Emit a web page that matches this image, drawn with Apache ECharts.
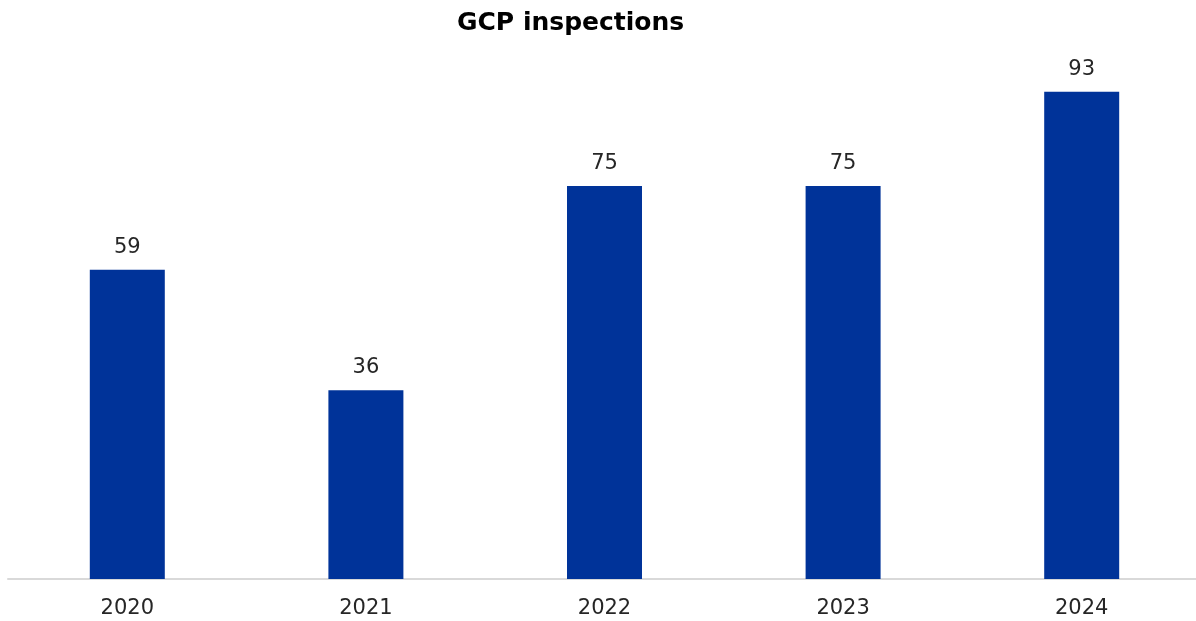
<!DOCTYPE html>
<html>
<head>
<meta charset="utf-8">
<script src="https://cdn.jsdelivr.net/npm/echarts@6/dist/echarts.min.js"></script>
<style>
  html, body { margin: 0; padding: 0; background: #fff; overflow: hidden; }
  #chart { width: 1201px; height: 621px; }
</style>
</head>
<body>
<div id="chart"></div>
<script>
const years = ['2020', '2021', '2022', '2023', '2024']
const inspections = [59, 36, 75, 75, 93]

const chart = echarts.init(document.getElementById('chart'))
chart.setOption({
  animation: false,
  title: {
    text: 'GCP inspections',
    left: 452,
    top: 6,
    textStyle: { fontFamily: 'DejaVu Sans', fontWeight: 'bold', fontSize: 25, color: '#000' }
  },
  // plot runs slightly past the right edge, like the original
  grid: { left: 8, right: 0, top: 55, bottom: 42, containLabel: false },
  xAxis: {
    type: 'category',
    data: years,
    axisLine: { lineStyle: { color: '#d9d9d9', width: 2 } },
    axisTick: { show: false },
    axisLabel: { color: '#262626', fontFamily: 'DejaVu Sans', fontSize: 21, margin: 19 }
  },
  yAxis: {
    type: 'value',
    min: 0,
    max: 100,
    show: false,
    splitLine: { show: false }
  },
  series: [{
    type: 'bar',
    data: inspections,
    barWidth: 75,
    itemStyle: { color: '#003399' },
    label: {
      show: true,
      position: 'top',
      distance: 12,
      color: '#262626',
      fontFamily: 'DejaVu Sans',
      fontSize: 21
    }
  }]
})
</script>
</body>
</html>
